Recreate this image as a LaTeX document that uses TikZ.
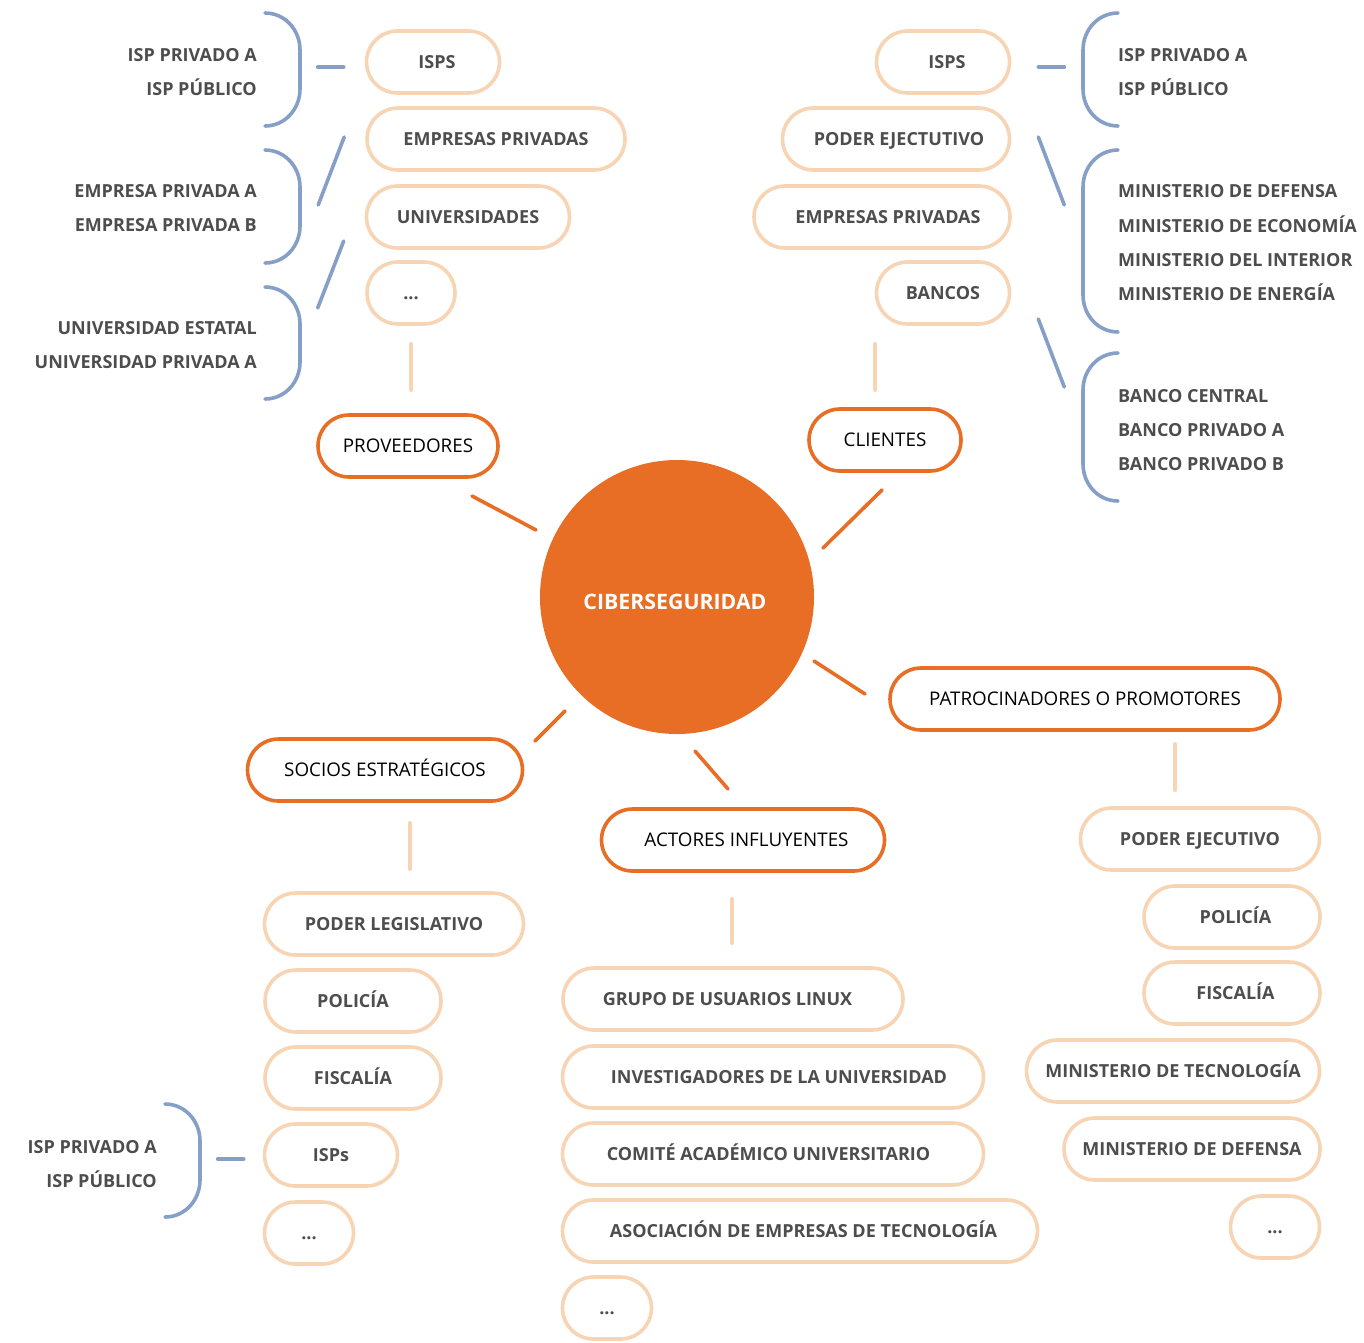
\documentclass[tikz,border=0pt]{standalone}
\usepackage{fontspec}
\setmainfont{Open Sans}
\usetikzlibrary{calc}
\definecolor{orng}{HTML}{E86D25}
\definecolor{peach}{HTML}{F7D4B4}
\definecolor{bluegray}{HTML}{859FC6}
\definecolor{txtgray}{HTML}{4D4D4D}
% closing brace ")" : tips at x=#1, spine at x=#2, from y=#3 to y=#4
\newcommand{\closebrace}[4]{%
  \draw[brc] (#1,#3) .. controls (#1+20,#3) and (#2,#3+17) .. (#2,#3+37)
    -- (#2,#4-37) .. controls (#2,#4-17) and (#1+20,#4) .. (#1,#4);}
% opening brace "(" : tips at x=#1, spine at x=#2
\newcommand{\openbrace}[4]{%
  \draw[brc] (#1,#3) .. controls (#1-20,#3) and (#2,#3+17) .. (#2,#3+37)
    -- (#2,#4-37) .. controls (#2,#4-17) and (#1-20,#4) .. (#1,#4);}
% nudge a label sideways inside its pill by half of #1
\newcommand{\nudge}[1]{\hspace*{#1}}
\begin{document}
\begin{tikzpicture}[x=1pt,y=-1pt,
  pillbase/.style={rectangle, rounded corners=31pt, minimum height=62pt,
    inner sep=0pt, line width=3.6pt, fill=white},
  sub/.style={pillbase, draw=peach, text=txtgray,
    font=\bfseries\fontsize{18}{21}\selectfont, text height=13pt, text depth=0pt},
  main/.style={pillbase, draw=orng, text=black,
    font=\fontsize{18.8}{22}\selectfont, text height=13.4pt, text depth=0pt},
  lbl/.style={inner sep=0pt, text=txtgray, font=\bfseries\fontsize{18}{21}\selectfont},
  brc/.style={draw=bluegray, line width=3.6pt, line cap=round},
  bluelink/.style={draw=bluegray, line width=3.6pt, line cap=round},
  peachlink/.style={draw=peach, line width=3.6pt, line cap=round},
  mainlink/.style={draw=orng, line width=3.6pt, line cap=round}]
\useasboundingbox (0,0) rectangle (1364,1342);

% centre
\node[circle, fill=orng, minimum size=274pt, inner sep=0pt] (c) at (677,597) {};
\node[inner sep=0pt, text=white, font=\bfseries\fontsize{21.3}{25}\selectfont]
  (ctitle) at ($(c)+(-2,5)$) {CIBERSEGURIDAD};

% main groups
\node[main, minimum width=180pt] (prov) at (408,446) {PROVEEDORES};
\node[main, minimum width=152pt] (cli) at (885,440) {CLIENTES};
\node[main, minimum width=390pt] (pat) at (1085,699) {PATROCINADORES O PROMOTORES};
\node[main, minimum width=275pt] (soc) at (385,770) {SOCIOS ESTRATÉGICOS};
\node[main, minimum width=283pt] (act) at (743,840) {\nudge{7pt}ACTORES INFLUYENTES};

\draw[mainlink] ($(c)+(-141,-67)$) -- ($(prov)+(64,50)$);
\draw[mainlink] ($(c)+(146,-49)$) -- ($(cli)+(-3,50)$);
\draw[mainlink] ($(c)+(137,64)$) -- ($(pat)+(-220,-5)$);
\draw[mainlink] ($(c)+(-112,114)$) -- ($(soc)+(150,-29)$);
\draw[mainlink] ($(c)+(18,154)$) -- ($(act)+(-15,-51)$);

% providers
\node[sub, minimum width=133pt] (lisps) at (433,62) {\nudge{8pt}ISPS};
\node[sub, minimum width=258pt] (lemp) at (496,139) {EMPRESAS PRIVADAS};
\node[sub, minimum width=203pt] (luni) at (468,217) {UNIVERSIDADES};
\node[sub, minimum width=88pt] (ldots) at (411,293) {...};
\draw[peachlink] ($(ldots.south)+(0,18)$) -- ($(prov.north)+(3,-23)$);

\closebrace{265}{300}{13}{126}
\closebrace{265}{300}{150}{263}
\closebrace{265}{300}{287}{399}
\draw[bluelink] ($(lisps.west)+(-21,5)$) -- ($(lisps.west)+(-47,5)$);
\draw[bluelink] ($(lemp.west)+(-21,-2)$) -- ($(lemp.west)+(-47,66)$);
\draw[bluelink] ($(luni.west)+(-21,24)$) -- ($(luni.west)+(-47,91)$);

\node[lbl, anchor=base east] (l1a) at (257,61.5) {ISP PRIVADO A};
\node[lbl, anchor=base east] (l1b) at (257,95.5) {ISP PÚBLICO};
\node[lbl, anchor=base east] (l2a) at (257,197.5) {EMPRESA PRIVADA A};
\node[lbl, anchor=base east] (l2b) at (257,231.5) {EMPRESA PRIVADA B};
\node[lbl, anchor=base east] (l3a) at (257,334.5) {UNIVERSIDAD ESTATAL};
\node[lbl, anchor=base east] (l3b) at (257,368.5) {UNIVERSIDAD PRIVADA A};

% clients
\node[sub, minimum width=133pt] (risps) at (943,62) {\nudge{8pt}ISPS};
\node[sub, minimum width=227pt] (rpej) at (896,139) {\nudge{6pt}PODER EJECTUTIVO};
\node[sub, minimum width=256pt] (remp) at (882,217) {\nudge{12pt}EMPRESAS PRIVADAS};
\node[sub, minimum width=133pt] (rban) at (943,293) {BANCOS};
\draw[peachlink] ($(rban.south)+(-68,18)$) -- ($(cli.north)+(-10,-17)$);

\openbrace{1118}{1083}{13}{126}
\openbrace{1118}{1083}{150}{332}
\openbrace{1118}{1083}{353}{501}
\draw[bluelink] ($(risps.east)+(27,5)$) -- ($(risps.east)+(53,5)$);
\draw[bluelink] ($(rpej.east)+(27,-2)$) -- ($(rpej.east)+(53,66)$);
\draw[bluelink] ($(rban.east)+(27,26)$) -- ($(rban.east)+(53,94)$);

\node[lbl, anchor=base west] (r1a) at (1118,61.5) {ISP PRIVADO A};
\node[lbl, anchor=base west] (r1b) at (1118,95.5) {ISP PÚBLICO};
\node[lbl, anchor=base west] (r2a) at (1118,197.5) {MINISTERIO DE DEFENSA};
\node[lbl, anchor=base west] (r2b) at (1118,232.5) {MINISTERIO DE ECONOMÍA};
\node[lbl, anchor=base west] (r2c) at (1118,266.5) {MINISTERIO DEL INTERIOR};
\node[lbl, anchor=base west] (r2d) at (1118,300.5) {MINISTERIO DE ENERGÍA};
\node[lbl, anchor=base west] (r3a) at (1118,402.5) {BANCO CENTRAL};
\node[lbl, anchor=base west] (r3b) at (1118,436.5) {BANCO PRIVADO A};
\node[lbl, anchor=base west] (r3c) at (1118,470.5) {BANCO PRIVADO B};

% strategic partners
\node[sub, minimum width=259pt] (plegis) at (394,924) {PODER LEGISLATIVO};
\node[sub, minimum width=176pt] (spol) at (353,1001) {POLICÍA};
\node[sub, minimum width=176pt] (sfis) at (353,1078) {FISCALÍA};
\node[sub, minimum width=133pt] (sisps) at (331,1155) {ISPs};
\node[sub, minimum width=89pt] (sdots) at (309,1233) {...};
\draw[peachlink] ($(soc.south)+(25,20)$) -- ($(plegis.north)+(16,-22)$);

\closebrace{165}{200}{1104}{1217}
\draw[bluelink] ($(sisps.west)+(-19,4)$) -- ($(sisps.west)+(-45,4)$);
\node[lbl, anchor=base east] (s1a) at (157,1153.5) {ISP PRIVADO A};
\node[lbl, anchor=base east] (s1b) at (157,1187.5) {ISP PÚBLICO};

% influential actors
\node[sub, minimum width=340pt] (grupo) at (733,999) {\nudge{-11pt}GRUPO DE USUARIOS LINUX};
\node[sub, minimum width=421pt] (inv) at (773,1077) {\nudge{12pt}INVESTIGADORES DE LA UNIVERSIDAD};
\node[sub, minimum width=421pt] (com) at (773,1154) {\nudge{-9pt}COMITÉ ACADÉMICO UNIVERSITARIO};
\node[sub, minimum width=475pt] (aso) at (800,1231) {\nudge{7pt}ASOCIACIÓN DE EMPRESAS DE TECNOLOGÍA};
\node[sub, minimum width=89pt] (adots) at (607,1308) {...};
\draw[peachlink] ($(act.south)+(-11,26)$) -- ($(grupo.north)+(-1,-23)$);

% sponsors
\node[sub, minimum width=239pt] (pej) at (1200,839) {PODER EJECUTIVO};
\node[sub, minimum width=176pt] (ppol) at (1232,917) {\nudge{7pt}POLICÍA};
\node[sub, minimum width=176pt] (pfis) at (1232,993) {\nudge{7pt}FISCALÍA};
\node[sub, minimum width=293pt] (pmtec) at (1173,1071) {MINISTERIO DE TECNOLOGÍA};
\node[sub, minimum width=256pt] (pmdef) at (1192,1149) {MINISTERIO DE DEFENSA};
\node[sub, minimum width=89pt] (pdots) at (1275,1227) {...};
\draw[peachlink] ($(pat.south)+(90,12)$) -- ($(pej.north)+(-25,-16)$);
\end{tikzpicture}
\end{document}
